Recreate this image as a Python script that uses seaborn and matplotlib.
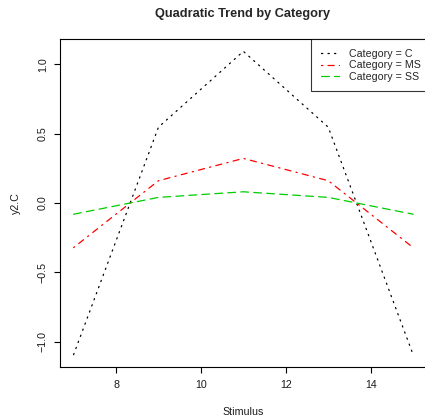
import matplotlib
matplotlib.use("Agg")
import matplotlib.pyplot as plt
import seaborn as sns
import pandas as pd
from matplotlib.ticker import MultipleLocator

# ---- data ----
stimulus = [7, 9, 11, 13, 15]
cat_c = [-1.095, 0.5475, 1.095, 0.5475, -1.095]
cat_ms = [-0.322, 0.161, 0.322, 0.161, -0.322]
cat_ss = [-0.081, 0.0405, 0.081, 0.0405, -0.081]
categories = ["C", "MS", "SS"]
colors = ["#000000", "#FF0000", "#00CD00"]

sns.set_style("white")
plt.rcParams['font.family'] = ['Liberation Sans', 'DejaVu Sans']
plt.rcParams['lines.scale_dashes'] = False
plt.rcParams['axes.unicode_minus'] = True

DPI = 100
W, H = 425, 417
fig = plt.figure(figsize=(W / DPI, H / DPI), dpi=DPI)

px = 72.0 / DPI  # points per pixel
left, right, top, bottom = 60.0, 426.7, 39.2, 366.8
ax = fig.add_axes([left / W, 1 - bottom / H, (right - left) / W, (bottom - top) / H])

u = 1.625 * px
patterns = [(0, (0.8 * u, 3.2 * u)),
            (0, (0.8 * u, 3.2 * u, 3.8 * u, 3.2 * u)),
            (0, (4.8 * u, 3.2 * u))]

df = pd.DataFrame({
    "Stimulus": stimulus * 3,
    "value": cat_c + cat_ms + cat_ss,
    "Category": sum([[c] * len(stimulus) for c in categories], []),
})

lw = 0.9
for cat, col, pat in zip(categories, colors, patterns):
    sub = df[df["Category"] == cat]
    sns.lineplot(data=sub, x="Stimulus", y="value", color=col, linestyle=pat,
                 linewidth=lw, label=f"Category = {cat}", ax=ax,
                 dash_capstyle="round", solid_capstyle="round")

ax.margins(x=0.04, y=0.04)
ax.xaxis.set_major_locator(MultipleLocator(2))
ax.yaxis.set_major_locator(MultipleLocator(0.5))
ax.yaxis.set_major_formatter(matplotlib.ticker.FuncFormatter(lambda v, p: f"{v:.1f}".replace("-", "\u2212")))

fs = 10.6 * px
for s in ax.spines.values():
    s.set_color("black")
    s.set_linewidth(0.8)
ax.tick_params(axis="both", which="major", direction="out", length=6 * px, width=0.8,
               color="black", labelsize=fs, bottom=True, left=True, labelcolor="#1a1a1a")
ax.tick_params(axis="x", pad=7 * px)
ax.tick_params(axis="y", pad=6 * px, labelrotation=90)
for t in ax.get_yticklabels():
    t.set_va("center")

ax.set_xlabel("Stimulus", fontsize=fs, color="#1a1a1a")
ax.set_ylabel("y2.C", fontsize=fs, color="#1a1a1a")
ax.xaxis.set_label_coords(0.5, (bottom - 411.7) / (bottom - top))
ax.xaxis.label.set_va("center")
ax.yaxis.set_label_coords((16 - left) / (right - left), 0.5)
ax.yaxis.label.set_va("center")

fig.text(243.0 / W, 1 - 13.5 / H, "Quadratic Trend by Category", ha="center", va="center",
         fontsize=12.7 * px, fontweight="bold")

leg = ax.legend(loc="upper right", bbox_to_anchor=(1 + 4.0 / (right - left), 1.0),
                borderaxespad=0, fontsize=fs, frameon=True,
                fancybox=False, edgecolor="black", handlelength=1.75, handletextpad=0.95,
                borderpad=0.9, labelspacing=0.15)
leg.get_frame().set_linewidth(0.8)

fig.savefig("out.png", dpi=DPI)
